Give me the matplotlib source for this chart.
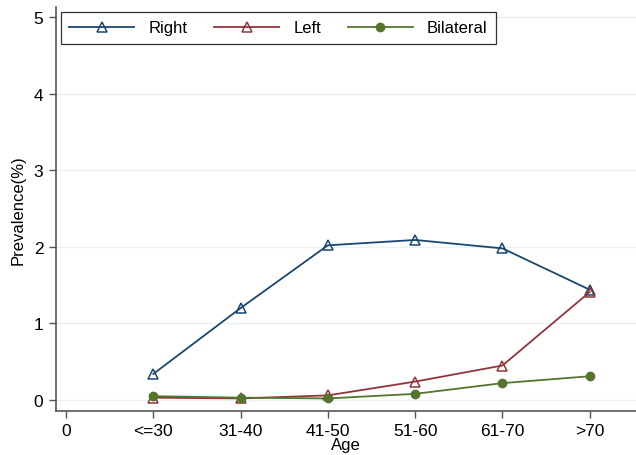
import matplotlib
matplotlib.use("Agg")
import matplotlib.pyplot as plt

categories = ["<=30", "31-40", "41-50", "51-60", "61-70", ">70"]
x_ticks = [0, 1, 2, 3, 4, 5, 6]
x_ticklabels = ["0"] + categories
right = [0.34, 1.20, 2.02, 2.09, 1.98, 1.44]
left = [0.03, 0.02, 0.06, 0.24, 0.45, 1.41]
bilateral = [0.05, 0.03, 0.02, 0.08, 0.22, 0.31]
y_ticks = [0, 1, 2, 3, 4, 5]

plt.rcParams['font.family'] = ['Liberation Sans', 'DejaVu Sans']

fig = plt.figure(figsize=(6.36, 4.56), dpi=100)
ax = fig.add_axes([0.088, 0.0965, 0.912, 0.8855])

xs = list(range(1, len(categories) + 1))
navy = '#1a476f'
maroon = '#90353b'
green = '#55752f'

ax.plot(xs, right, color=navy, lw=1.3, marker='^', ms=7, mfc='none', mec=navy, mew=1.1, label='Right')
ax.plot(xs, left, color=maroon, lw=1.3, marker='^', ms=7, mfc='none', mec=maroon, mew=1.1, label='Left')
ax.plot(xs, bilateral, color=green, lw=1.3, marker='o', ms=6, mfc=green, mec=green, label='Bilateral')

ax.set_xlim(-0.115, 6.53)
ax.set_ylim(-0.144, 5.13)
ax.set_xticks(x_ticks)
ax.set_xticklabels(x_ticklabels)
ax.set_yticks(y_ticks)
ax.yaxis.grid(True, color='#eaf2f3', lw=1.0)
ax.set_axisbelow(True)

for s in ['top', 'right']:
    ax.spines[s].set_visible(False)
for s in ['left', 'bottom']:
    ax.spines[s].set_color('#555555')
    ax.spines[s].set_linewidth(1.2)
ax.tick_params(axis='both', direction='out', length=5, width=1.0, color='#555555', labelsize=12.5, labelcolor='black', pad=4)

ax.set_xlabel('Age', fontsize=12, labelpad=-1)
ax.set_ylabel('Prevalence(%)', fontsize=12, labelpad=6)

leg = ax.legend(loc='upper left', bbox_to_anchor=(0.0086, 0.988), ncol=3, frameon=True, fancybox=False,
                edgecolor='black', fontsize=12, handlelength=3.9, columnspacing=1.6, handletextpad=0.85,
                borderaxespad=0, borderpad=0.5)
leg.get_frame().set_linewidth(0.9)

fig.savefig('out.png', dpi=100, facecolor='white')
